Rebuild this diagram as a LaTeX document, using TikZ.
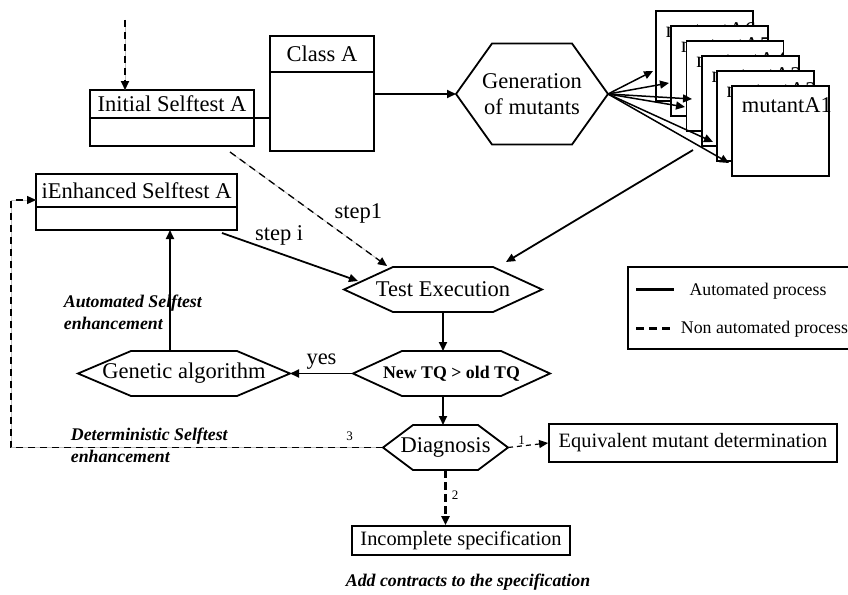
\documentclass[tikz,border=0pt]{standalone}
\usepackage{fontspec}
\setmainfont{Liberation Serif}
\usepackage{tikz}
\usetikzlibrary{positioning, arrows.meta, calc}
\newcommand{\bigfont}{\fontsize{22.5}{26}\selectfont}
\newcommand{\midfont}{\fontsize{20.4}{24}\selectfont}
\newcommand{\smallfont}{\fontsize{17.8}{22}\selectfont}
\newcommand{\tinyfont}{\fontsize{13}{15}\selectfont}
\tikzset{
    classtop/.style={draw, rectangle, inner sep=0pt, outer sep=0pt, font=\bigfont},
    classbody/.style={draw, rectangle, inner sep=0pt, outer sep=0pt},
    hexline/.style={},
    hexa/.style={inner sep=0pt, outer sep=0pt, minimum height=45pt, font=\bigfont,
      append after command={\pgfextra{\draw[hexline] (\tikzlastnode.west)
        -- ([xshift=#1]\tikzlastnode.north west) -- ([xshift=-#1]\tikzlastnode.north east)
        -- (\tikzlastnode.east) -- ([xshift=-#1]\tikzlastnode.south east)
        -- ([xshift=#1]\tikzlastnode.south west) -- cycle;}}},
    mutant/.style={draw, fill=white, anchor=north west, minimum width=97pt, minimum height=90pt, outer sep=0pt},
    mutantlabel/.style={anchor=north west, inner sep=0pt, xshift=9pt, yshift=-11pt, font=\bigfont},
    plainbox/.style={draw, rectangle, inner sep=0pt, font=\midfont},
    note/.style={font=\smallfont\bfseries\itshape, align=left, inner sep=0pt},
    steplabel/.style={font=\bigfont, inner sep=2pt},
    num/.style={font=\tinyfont, inner sep=1pt},
    manual/.style={dash pattern=on 7pt off 5pt, preaction={draw=black!25, solid, line width=0.8pt}},
}

\begin{document}
\begin{tikzpicture}[x=1pt, y=-1pt, line width=1.8pt, >={Triangle[length=9pt,width=8pt]}]
    \useasboundingbox (0,0) rectangle (848,594);
    \clip (0,0) rectangle (848,594);

    % classes
    \node[classtop, minimum width=164pt, minimum height=28pt] (initT) at (172,104) {Initial Selftest A};
    \node[classbody, minimum width=164pt, minimum height=28pt, below=0pt of initT] (initB) {};
    \node[classtop, minimum width=104pt, minimum height=36pt] (classT) at (322,54) {Class A};
    \node[classbody, minimum width=104pt, minimum height=79pt, below=0pt of classT] (classB) {};
    \node[classtop, minimum width=201pt, minimum height=33pt] (ienhT) at (136.5,190.5) {iEnhanced Selftest A};
    \node[classbody, minimum width=201pt, minimum height=23pt, below=0pt of ienhT] (ienhB) {};

    % process steps
    \node[hexa=36pt, minimum width=152pt, minimum height=101pt, align=center] (gen) at (532,94) {Generation\\of mutants};
    \node[hexa=49pt, minimum width=198pt] (test) at (443,289.5) {Test Execution};
    \node[hexa=53pt, minimum width=212pt] (genetic) at (184,373.5) {Genetic algorithm};
    \node[hexa=49pt, minimum width=197pt, font=\smallfont\bfseries] (newtq) at (451.5,373.5) {New TQ > old TQ};
    \node[hexa=30pt, minimum width=125pt, hexline/.style={dash pattern=on 6pt off 3pt}] (diag) at (445.5,447.5) {Diagnosis};
    \node[plainbox, minimum width=288pt, minimum height=38pt] (equiv) at (693,443) {Equivalent mutant determination};
    \node[plainbox, minimum width=218pt, minimum height=29pt] (incomp) at (461,540.5) {Incomplete specification};

    % mutants
    \foreach \i in {6,5,...,1}
      \node[mutant, label={[mutantlabel]north west:mutantA\i}] (m\i) at ({732-(\i-1)*15.2},{86-(\i-1)*15}) {};

    \coordinate (t1) at (653,71);
    \coordinate (t2) at (669,83);
    \coordinate (t3) at (692,99);
    \coordinate (t4) at (685,107);
    \coordinate (t5) at (713,142);
    \coordinate (t6) at (729,163);
    \foreach \t in {t1,t2,t3,t4,t5,t6}
      \draw[->, line width=1.5pt] (gen.east) -- (\t);

    % connectors
    \coordinate (src) at (125,20);
    \draw[manual, ->] (src) -- (src |- initT.north);
    \draw (initT.south east) -- (initT.south east -| classB.west);
    \draw[->] (gen.west -| classB.east) -- (gen.west);

    \coordinate (mout) at (693,150);
    \draw[->] (mout) -- ($(test.north east)+(-36,-5)$);
    \draw[manual, ->, line width=1.3pt] ($(initB.south east)+(-24,6)$)
      -- node[steplabel, pos=0.65, above right] (lstep1) {step1} ($(test.north west)+(43,-1)$);
    \draw[->] ($(ienhB.south east)+(-15,3)$)
      -- node[steplabel, pos=0.42, above=5pt] (lstepi) {step i} ($(test.west)+(14,-8.5)$);

    \draw[->] (test.south) -- (test.south |- newtq.north);
    \draw[->] (test.south |- newtq.south) -- (test.south |- diag.north);
    \draw[->] (newtq.west) -- node[steplabel, above=1pt] (lyes) {yes} (genetic.east);
    \coordinate (gup) at ($(genetic.north)+(-14,0)$);
    \draw[->] (gup) -- (gup |- ienhB.south);

    \coordinate (fb) at (11,200);
    \draw[manual, ->, line width=1.3pt] (diag.west) -- node[num, pos=0.09, above=5pt] (l3) {3} (diag.west -| fb) -- (fb) -- (fb -| ienhT.west);
    \draw[->, line width=1.2pt, dash pattern=on 5pt off 4pt] (diag.east) -- node[num, pos=0.34, above=0pt] (l1) {1} (equiv.west);
    \draw[->, line width=2.5pt, dash pattern=on 8pt off 4pt] (diag.south) -- node[num, pos=0.45, right=4pt] (l2) {2} (diag.south |- incomp.north);

    % notes
    \node[note, anchor=north west] (autoenh) at (63,294) {Automated Selftest\\enhancement};
    \node[note, anchor=north west] (detenh) at (70,427) {Deterministic Selftest\\enhancement};
    \node[note] (contracts) at (468,582) {Add contracts to the specification};

    % legend
    \node[draw, anchor=north west, minimum width=250pt, minimum height=82pt, inner sep=0pt] (legend) at (627,266) {};
    \draw[line width=3pt] ($(legend.north west)+(9,23)$) -- +(38,0);
    \draw[line width=3pt, dash pattern=on 8pt off 5pt] ($(legend.north west)+(9,62)$) -- +(35,0);
    \node[note, font=\smallfont] (ltxt1) at (758,291) {Automated process};
    \node[note, font=\smallfont, anchor=west] (ltxt2) at (680,329) {Non automated process};
\end{tikzpicture}
\end{document}
